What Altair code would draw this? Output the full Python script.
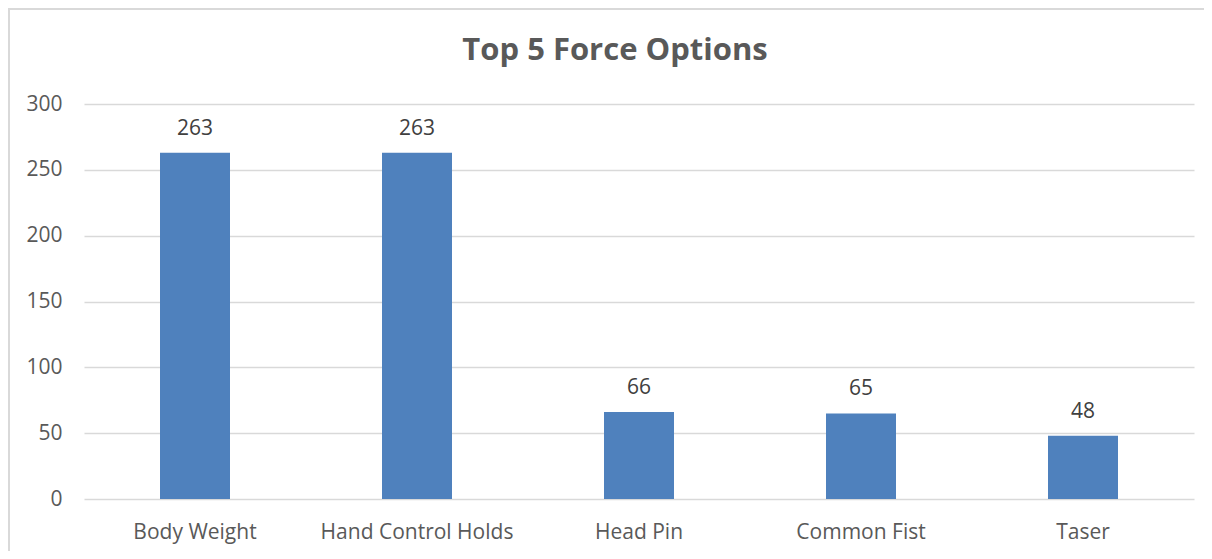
import altair as alt
import pandas as pd

title_text = ["Top 5 Force Options"]
categories = ["Body Weight", "Hand Control Holds", "Head Pin", "Common Fist", "Taser"]
counts = [263, 263, 66, 65, 48]

df = pd.DataFrame({"option": categories, "count": counts})
tdf = pd.DataFrame({"t": title_text})

FONT = "Open Sans"
W, H = 1110, 395
FS = 21

base = alt.Chart(df).encode(
    x=alt.X("option:N", sort=categories, title=None,
            scale=alt.Scale(paddingInner=0, paddingOuter=0),
            axis=alt.Axis(labelAngle=0, labelFontSize=FS, labelColor="#595959",
                          labelFont=FONT, labelPadding=22, labelLimit=400, ticks=False,
                          domain=False, grid=False)),
    y=alt.Y("count:Q", title=None,
            scale=alt.Scale(domain=[0, 300], nice=False),
            axis=alt.Axis(values=[0, 50, 100, 150, 200, 250, 300], labelFontSize=FS,
                          labelColor="#595959", labelFont=FONT, labelPadding=22,
                          ticks=False, domain=False, gridColor="#d9d9d9", gridWidth=1.5)),
)

bars = base.mark_bar(size=70, color="#4F81BD")
labels = base.mark_text(dy=-18, baseline="alphabetic", fontSize=FS, font=FONT,
                        color="#404040").encode(text="count:Q")

top_line = alt.Chart(tdf).mark_rule(stroke="#d9d9d9", strokeWidth=2).encode(
    x=alt.value(-76), x2=alt.value(1120), y=alt.value(-95)
)
left_line = alt.Chart(tdf).mark_rule(stroke="#d9d9d9", strokeWidth=2).encode(
    x=alt.value(-75), y=alt.value(-96), y2=alt.value(447)
)

title = alt.Chart(tdf).mark_text(fontSize=31, font=FONT, fontWeight="bold", color="#595959",
                                 align="center", baseline="alphabetic").encode(
    text="t:N", x=alt.value(531), y=alt.value(-44)
)

chart = alt.layer(top_line, left_line, bars, labels, title).properties(
    width=W, height=H,
    autosize=alt.AutoSizeParams(type="none"),
    padding={"left": 76, "top": 96, "right": 10, "bottom": 52},
).configure(background="white", view=alt.ViewConfig(stroke=None))

chart.save("out.html", embed_options={"renderer": "svg", "actions": False})
